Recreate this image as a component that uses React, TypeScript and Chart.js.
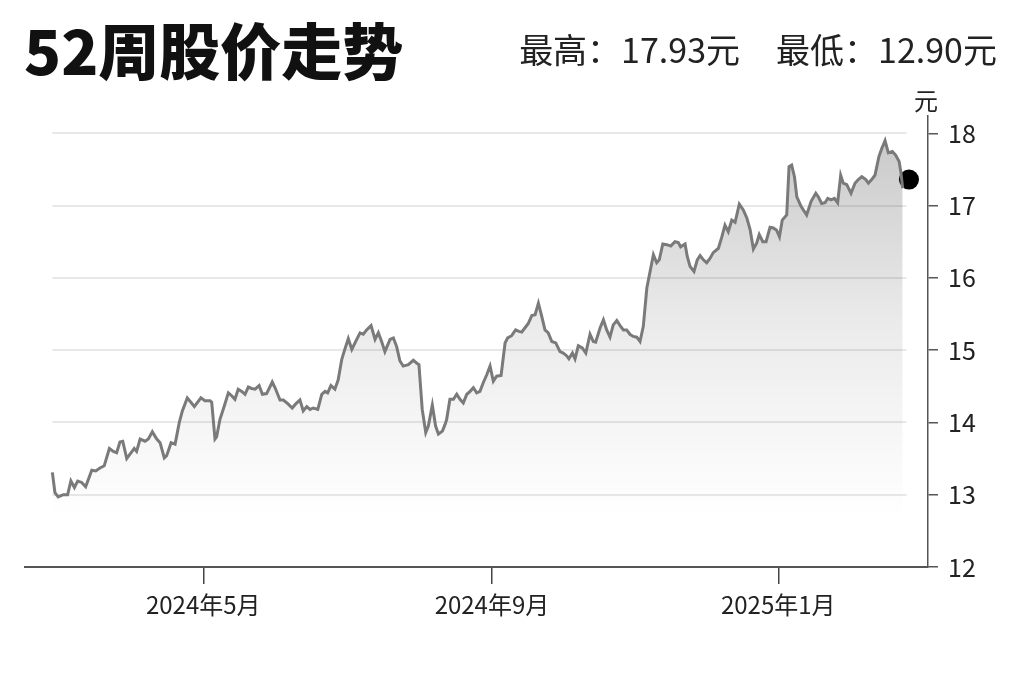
import { useEffect, useRef } from 'react';
import { Chart, registerables } from 'chart.js';

Chart.register(...registerables);

// days counted from 2024-02-26
const days = [
  0.7, 1.8, 3.2, 5.4, 7.2, 8.6, 10.1, 11.5, 13.2, 14.9, 17.5, 19.2, 21.0, 22.8, 25.0, 26.7, 28.1, 29.5, 30.7, 32.4,
  34.2, 35.6, 36.6, 38.1, 40.2, 41.6, 43.3, 45.2, 46.6, 48.4, 49.4, 51.3, 53.0, 54.8, 56.1, 58.2, 61.2, 64.0, 65.7, 67.9,
  68.6, 70.0, 70.7, 72.1, 74.0, 75.7, 77.1, 78.5, 79.9, 81.4, 82.8, 84.2, 85.6, 87.1, 88.8, 90.2, 92.0, 94.4, 95.6, 97.7,
  99.1, 101.0, 102.9, 104.5, 106.2, 107.6, 109.1, 110.5, 111.9, 113.8, 115.5, 116.9, 118.0, 119.4, 121.1, 122.5, 124.0, 125.2, 126.8, 128.3,
  130.4, 131.8, 133.2, 134.6, 136.5, 138.2, 139.6, 141.0, 142.4, 144.6, 146.0, 147.4, 148.8, 150.2, 152.4, 154.5, 156.0, 156.9, 158.3, 159.8,
  160.9, 162.6, 164.0, 165.2, 166.9, 168.0, 168.7, 170.1, 171.6, 173.0, 174.4, 175.8, 177.3, 178.7, 180.1, 181.5, 182.9, 184.3, 185.8, 187.2,
  188.6, 190.0, 191.9, 193.6, 194.7, 196.4, 198.1, 199.5, 200.7, 202.1, 203.5, 205.0, 206.4, 207.8, 209.2, 210.6, 212.0, 213.5, 215.2, 217.0,
  218.4, 219.9, 220.8, 222.3, 223.4, 224.8, 226.5, 228.0, 229.8, 231.2, 232.2, 234.1, 235.5, 236.9, 238.3, 239.7, 241.2, 242.6, 244.0, 245.4,
  246.8, 248.2, 249.7, 251.1, 252.5, 254.0, 255.4, 256.8, 258.2, 259.3, 260.8, 262.5, 264.2, 266.0, 267.4, 268.4, 270.3, 271.2, 272.4, 274.1,
  275.5, 276.7, 278.1, 279.5, 280.9, 282.3, 284.5, 285.9, 287.3, 288.7, 290.2, 291.6, 293.4, 295.1, 296.6, 298.0, 299.4, 300.8, 301.9, 303.4,
  304.8, 306.5, 307.9, 309.3, 310.5, 311.7, 313.6, 314.6, 315.7, 316.9, 317.9, 319.7, 322.1, 324.0, 326.0, 327.1, 328.5, 329.9, 331.1, 332.5,
  333.9, 335.3, 336.6, 337.7, 339.2, 341.0, 342.7, 344.1, 345.6, 347.3, 348.4, 349.8, 351.2, 352.9, 354.1, 355.5, 356.9, 358.6, 360.0, 361.5,
  362.3, 363.0,
];

const prices = [
  13.31, 13.03, 12.97, 13.0, 13.0, 13.19, 13.1, 13.19, 13.17, 13.11, 13.34, 13.33, 13.37, 13.4, 13.64, 13.6, 13.58, 13.73, 13.74, 13.5,
  13.58, 13.64, 13.6, 13.77, 13.74, 13.77, 13.87, 13.77, 13.72, 13.51, 13.54, 13.72, 13.7, 14.0, 14.16, 14.34, 14.22, 14.34, 14.3, 14.3,
  14.28, 13.77, 13.8, 14.04, 14.23, 14.41, 14.37, 14.32, 14.46, 14.43, 14.39, 14.49, 14.47, 14.46, 14.51, 14.39, 14.4, 14.56, 14.48, 14.31,
  14.31, 14.26, 14.2, 14.26, 14.31, 14.16, 14.22, 14.18, 14.2, 14.18, 14.39, 14.43, 14.41, 14.51, 14.46, 14.59, 14.87, 15.0, 15.16, 15.01,
  15.15, 15.24, 15.22, 15.28, 15.34, 15.15, 15.24, 15.12, 14.98, 15.15, 15.17, 15.05, 14.85, 14.78, 14.8, 14.86, 14.82, 14.8, 14.18, 13.86,
  13.95, 14.24, 13.95, 13.84, 13.88, 13.97, 14.04, 14.32, 14.32, 14.39, 14.32, 14.27, 14.39, 14.43, 14.48, 14.41, 14.43, 14.55, 14.66, 14.78,
  14.57, 14.64, 14.65, 15.1, 15.17, 15.2, 15.28, 15.26, 15.25, 15.31, 15.37, 15.48, 15.49, 15.65, 15.47, 15.28, 15.24, 15.12, 15.1, 14.98,
  14.96, 14.92, 14.88, 14.96, 14.88, 15.06, 15.03, 14.96, 15.22, 15.12, 15.11, 15.31, 15.42, 15.28, 15.18, 15.35, 15.41, 15.34, 15.28, 15.28,
  15.22, 15.19, 15.18, 15.12, 15.33, 15.86, 16.09, 16.32, 16.21, 16.25, 16.47, 16.46, 16.44, 16.5, 16.49, 16.43, 16.47, 16.3, 16.16, 16.09,
  16.25, 16.31, 16.25, 16.21, 16.27, 16.35, 16.41, 16.56, 16.73, 16.64, 16.8, 16.77, 17.02, 16.94, 16.83, 16.67, 16.4, 16.48, 16.6, 16.5,
  16.5, 16.7, 16.69, 16.66, 16.57, 16.8, 16.87, 17.54, 17.56, 17.4, 17.12, 16.99, 16.87, 17.06, 17.17, 17.12, 17.03, 17.04, 17.1, 17.08,
  17.1, 17.04, 17.42, 17.31, 17.29, 17.17, 17.31, 17.36, 17.4, 17.36, 17.31, 17.36, 17.42, 17.68, 17.79, 17.9, 17.73, 17.75, 17.7, 17.61,
  17.45, 17.24,
];

const lastDay = 365.7;
const lastPrice = 17.36;

const tickDays = [65, 188, 310];
const tickLabels = ['2024年5月', '2024年9月', '2025年1月'];

const yMin = 12;
const yMax = 18.24;

const FONT = "'Noto Sans CJK SC', 'Noto Sans', sans-serif";

// light horizontal lines, only across the span of the data
const gridPlugin = {
  id: 'dataGrid',
  beforeDatasetsDraw(chart: any) {
    const { ctx, scales } = chart;
    const x0 = scales.x.getPixelForValue(days[0]);
    const x1 = scales.x.getPixelForValue(lastDay - 1);
    ctx.save();
    ctx.strokeStyle = '#e8e8e8';
    ctx.lineWidth = 2;
    scales.y.ticks.forEach((t: any) => {
      if (t.value <= yMin) return;
      const y = Math.round(scales.y.getPixelForValue(t.value));
      ctx.beginPath();
      ctx.moveTo(x0, y);
      ctx.lineTo(x1, y);
      ctx.stroke();
    });
    ctx.restore();
  },
};

export default function App() {
  const chartRef = useRef<HTMLCanvasElement>(null);
  const chartInstance = useRef<Chart | null>(null);

  useEffect(() => {
    if (!chartRef.current) return;
    if (chartInstance.current) chartInstance.current.destroy();
    const ctx = chartRef.current.getContext('2d');
    if (!ctx) return;

    chartInstance.current = new Chart(ctx, {
      type: 'line',
      data: {
        datasets: [
          {
            data: days.map((d, i) => ({ x: d, y: prices[i] })),
            borderColor: '#7a7a7a',
            borderWidth: 3,
            pointRadius: 0,
            tension: 0,
            fill: 'start',
            backgroundColor: (c: any) => {
              const chart = c.chart;
              if (!chart.chartArea) return 'rgba(0,0,0,0.1)';
              const y = chart.scales.y;
              const g = chart.ctx.createLinearGradient(0, y.getPixelForValue(18), 0, y.getPixelForValue(12.7));
              g.addColorStop(0, 'rgba(0,0,0,0.21)');
              g.addColorStop(0.5, 'rgba(0,0,0,0.08)');
              g.addColorStop(1, 'rgba(0,0,0,0)');
              return g;
            },
          },
          {
            data: [{ x: lastDay, y: lastPrice }],
            showLine: false,
            pointRadius: 10,
            pointBackgroundColor: '#000',
            pointBorderWidth: 0,
            fill: false,
          },
        ],
      },
      options: {
        animation: false,
        responsive: true,
        maintainAspectRatio: false,
        layout: { padding: { left: 25, top: 116, right: 0, bottom: 0 } },
        plugins: {
          legend: { display: false },
          tooltip: { enabled: false },
        },
        scales: {
          x: {
            type: 'linear',
            min: -10.95,
            max: 373.8,
            afterFit: (scale: any) => {
              scale.height = 115;
            },
            afterBuildTicks: (axis: any) => {
              axis.ticks = tickDays.map((v) => ({ value: v }));
            },
            ticks: {
              autoSkip: false,
              maxRotation: 0,
              padding: 6,
              color: '#222',
              font: { family: FONT, size: 24 },
              callback: (value: any) => tickLabels[tickDays.indexOf(Number(value))],
            },
            grid: {
              drawOnChartArea: false,
              drawTicks: true,
              tickLength: 17,
              color: '#444',
              lineWidth: 1.5,
            },
            border: { display: true, color: '#555', width: 2 },
          },
          y: {
            position: 'right',
            min: yMin,
            max: yMax,
            afterFit: (scale: any) => {
              scale.width = 96;
            },
            ticks: {
              stepSize: 1,
              includeBounds: false,
              padding: 10,
              color: '#222',
              font: { family: FONT, size: 25 },
            },
            grid: {
              drawOnChartArea: false,
              drawTicks: true,
              tickLength: 10,
              color: '#555',
              lineWidth: 1.5,
            },
            border: { display: true, color: '#555', width: 1.5 },
          },
        },
      },
      plugins: [gridPlugin],
    });

    return () => {
      if (chartInstance.current) {
        chartInstance.current.destroy();
        chartInstance.current = null;
      }
    };
  }, []);

  return (
    <div
      style={{
        position: 'absolute',
        left: 0,
        top: 0,
        width: 1024,
        height: 682,
        background: '#fff',
        fontFamily: FONT,
        color: '#111',
      }}
    >
      <div style={{ position: 'absolute', left: 0, top: 0, width: 1024, height: 682 }}>
        <canvas ref={chartRef}></canvas>
      </div>
      <div
        style={{
          position: 'absolute',
          left: 24,
          top: 12,
          fontSize: 61,
          fontWeight: 900,
          lineHeight: 1.2,
          whiteSpace: 'nowrap',
        }}
      >
        52周股价走势
      </div>
      <div
        style={{
          position: 'absolute',
          right: 27,
          top: 29,
          fontSize: 34,
          lineHeight: 1.2,
          whiteSpace: 'nowrap',
          color: '#222',
          display: 'flex',
          gap: 36,
        }}
      >
        <span>最高：17.93元</span>
        <span>最低：12.90元</span>
      </div>
      <div
        style={{
          position: 'absolute',
          left: 914,
          top: 86,
          fontSize: 24,
          lineHeight: 1.2,
          color: '#222',
        }}
      >
        元
      </div>
    </div>
  );
}
